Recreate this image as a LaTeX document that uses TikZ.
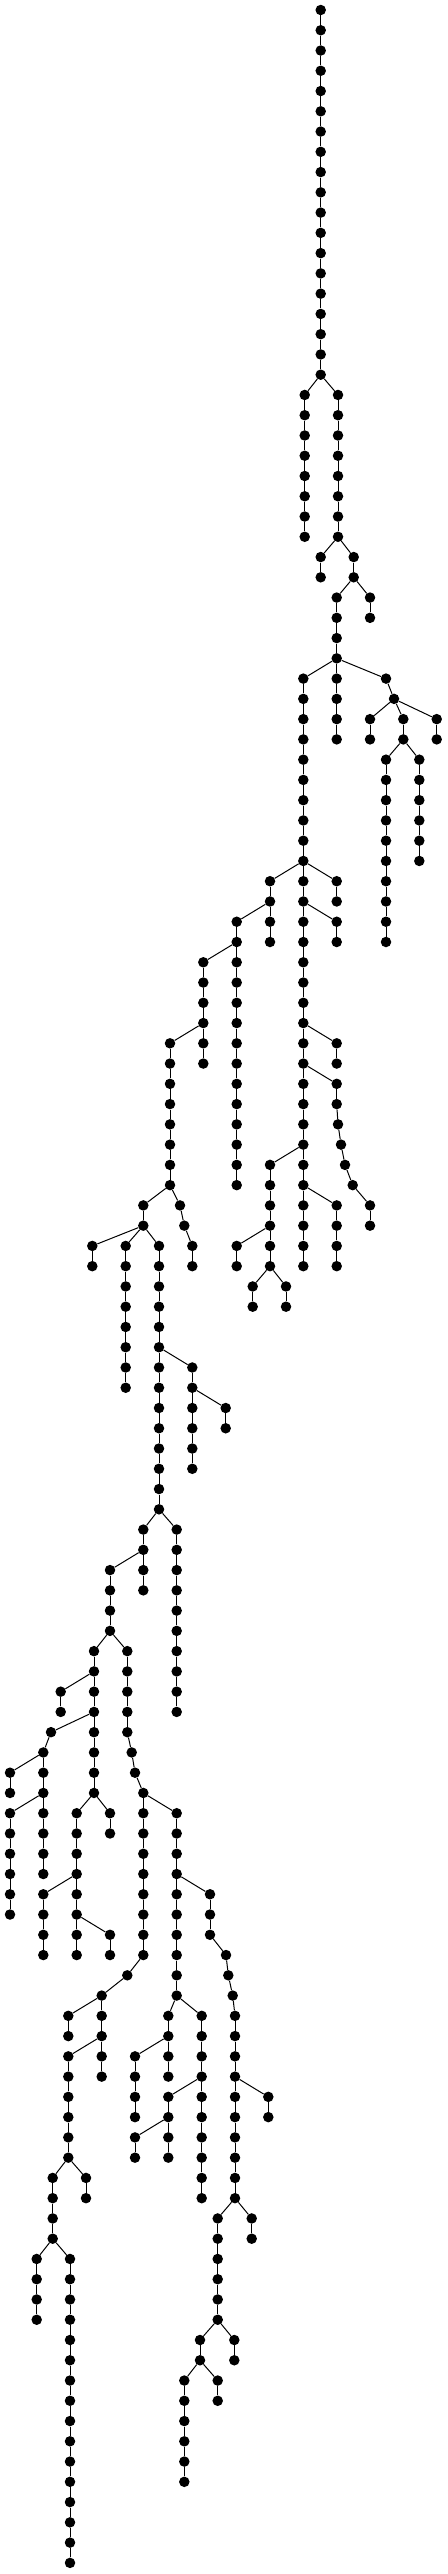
\documentclass[tikz,border=0pt]{standalone}
\begin{document}
\tikzset{
  dot/.style={circle,fill=black,draw=none,inner sep=0pt,minimum size=10.5pt},
  edge/.style={draw=black,line width=1pt}
}
\newcommand\chn[4]{%
  \foreach \lv in {#3,...,#4} {\node[dot] (#1-\lv) at (#2,\lv) {};}
  \pgfmathtruncatemacro\sA{#3+1}
  \foreach \lv in {\sA,...,#4} {\pgfmathtruncatemacro\pv{\lv-1}\draw[edge] (#1-\pv) -- (#1-\lv);}
}
\newcommand\pchn[4]{%
  \foreach \xx/\lv in {#2} {\node[dot] (#1-\lv) at (\xx,\lv) {};}
  \pgfmathtruncatemacro\sA{#3+1}
  \foreach \lv in {\sA,...,#4} {\pgfmathtruncatemacro\pv{\lv-1}\draw[edge] (#1-\pv) -- (#1-\lv);}
}
\begin{tikzpicture}[x=1pt,y=-20.26pt]
\useasboundingbox (0,-0.4936) rectangle (447,126.55);
% chains
\chn{a}{320.7}{0}{18}
\chn{b}{304.7}{19}{26}
\chn{c}{338}{19}{26}
\chn{d}{320.7}{27}{28}
\chn{e}{353.7}{27}{28}
\chn{f}{370}{29}{30}
\chn{g}{336.7}{29}{32}
\chn{h}{303.3}{33}{42}
\chn{i}{336.7}{33}{36}
\pchn{j}{386/33,394/34}{33}{34}
\chn{k}{370}{35}{36}
\chn{l}{403.3}{35}{36}
\chn{m}{436.7}{35}{36}
\chn{n}{386}{37}{46}
\chn{o}{419.3}{37}{42}
\chn{p}{270}{43}{44}
\chn{q}{303.3}{43}{62}
\chn{r}{336.7}{43}{44}
\chn{s}{236.7}{45}{46}
\chn{t}{270}{45}{46}
\chn{u}{336.7}{45}{46}
\chn{v}{203.3}{47}{50}
\chn{w}{236.7}{47}{58}
\chn{xa}{170}{51}{58}
\chn{xb}{203.3}{51}{52}
\chn{ya}{336.7}{51}{52}
\pchn{yb}{336.7/53,336.7/54,338/55,341/56,345/57,352.7/58,370/59,370/60}{53}{60}
\chn{za}{270}{57}{60}
\chn{zb}{336.7}{59}{62}
\chn{zc}{236.7}{61}{62}
\chn{zd}{270}{61}{62}
\chn{ze}{252.7}{63}{64}
\chn{zf}{286}{63}{64}
\chn{aa}{143.3}{59}{60}
\pchn{ab}{180/59,184.3/60,192.3/61,192.3/62}{59}{62}
\chn{ac}{92.3}{61}{62}
\chn{ad}{125.7}{61}{68}
\chn{ae}{159}{61}{74}
\chn{af}{192.3}{67}{72}
\chn{ag}{225.7}{69}{70}
\chn{ah}{143.3}{75}{76}
\chn{ai}{176.7}{75}{84}
\chn{aj}{110}{77}{80}
\chn{ak}{143.3}{77}{78}
\chn{al}{94}{81}{88}
\pchn{am}{127.3/81,127.3/82,127.3/83,127.3/84,127.3/85,131.7/86,135/87,143.3/88,143.3/89,143.3/90,143.3/91,143.3/92,143.3/93,143.3/94,143.3/95,143.3/96,127.3/97,101.7/98,101.7/99,101.7/100,101.7/101,101.7/102}{81}{102}
\chn{an}{68.3}{99}{100}
\chn{ao}{68.3}{101}{106}
\chn{ap}{52.7}{107}{110}
\chn{aq}{86}{107}{108}
\chn{ar}{36.7}{111}{114}
\chn{as}{70}{111}{126}
\chn{at}{176.7}{89}{98}
\pchn{au}{210/93,210/94,210/95,226/96,228.3/97,232.7/98,235/99,235/100,235/101,235/102,235/103,235/104,235/105,235/106,235/107,235/108}{93}{108}
\chn{av}{268.3}{103}{104}
\chn{aw}{217.7}{109}{114}
\chn{ax}{251.7}{109}{110}
\chn{ay}{200}{115}{116}
\chn{az}{234.3}{115}{116}
\chn{ba}{184.3}{117}{122}
\chn{bb}{217.7}{117}{118}
\chn{bc}{168.3}{99}{102}
\chn{bd}{201.7}{99}{108}
\chn{be}{135}{101}{104}
\chn{bf}{168.3}{103}{106}
\chn{bg}{135}{105}{106}
\chn{bh}{60.7}{83}{84}
\pchn{bi}{51/85,43.3/86,43.3/87,43.3/88,43.3/89,43.3/90,43.3/91,43.3/92}{85}{92}
\chn{bj}{10}{87}{88}
\chn{bk}{10}{89}{94}
\chn{bl}{76.7}{89}{96}
\chn{bm}{110}{89}{90}
\chn{bn}{43.3}{93}{96}
\chn{bo}{110}{95}{96}
% branch connectors
\foreach \pa/\ch in {a-18/b-19,a-18/c-19,c-26/d-27,c-26/e-27,e-28/f-29,e-28/g-29,
  g-32/h-33,g-32/i-33,g-32/j-33,j-34/k-35,j-34/l-35,j-34/m-35,l-36/n-37,l-36/o-37,
  h-42/p-43,h-42/q-43,h-42/r-43,p-44/s-45,p-44/t-45,q-44/u-45,s-46/v-47,s-46/w-47,
  v-50/xa-51,v-50/xb-51,q-50/ya-51,q-52/yb-53,q-56/za-57,q-58/zb-59,za-60/zc-61,za-60/zd-61,
  zd-62/ze-63,zd-62/zf-63,xa-58/aa-59,xa-58/ab-59,aa-60/ac-61,aa-60/ad-61,aa-60/ae-61,
  ae-66/af-67,af-68/ag-69,ae-74/ah-75,ae-74/ai-75,ah-76/aj-77,ah-76/ak-77,aj-80/al-81,aj-80/am-81,
  al-82/bh-83,al-84/bi-85,bi-86/bj-87,bi-88/bk-89,al-88/bl-89,al-88/bm-89,bl-92/bn-93,bl-94/bo-95,
  am-88/at-89,am-98/an-99,am-100/ao-101,ao-106/ap-107,ao-106/aq-107,ap-110/ar-111,ap-110/as-111,
  at-92/au-93,au-102/av-103,au-108/aw-109,au-108/ax-109,aw-114/ay-115,aw-114/az-115,
  ay-116/ba-117,ay-116/bb-117,at-98/bc-99,at-98/bd-99,bc-100/be-101,bd-102/bf-103,bf-104/bg-105}
  {\draw[edge] (\pa) -- (\ch);}
\end{tikzpicture}
\end{document}
